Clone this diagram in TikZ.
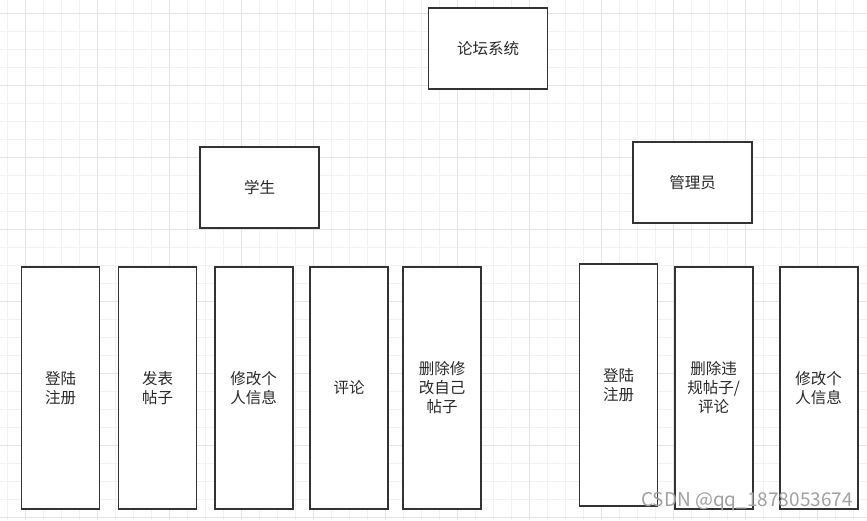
\documentclass[tikz,border=0pt]{standalone}
\usepackage{fontspec}
\newfontfamily\cjk{Noto Sans CJK SC}
\definecolor{minorgrid}{RGB}{242,242,242}
\definecolor{majorgrid}{RGB}{228,228,228}
\definecolor{linegray}{RGB}{51,51,51}
\definecolor{textgray}{RGB}{40,40,40}
\definecolor{wmgray}{RGB}{160,160,160}
\tikzset{
  box/.style={draw=linegray,line width=1.8pt,fill=white,inner sep=0pt,align=center,
    text=textgray,font=\cjk\fontsize{15.5}{19}\selectfont},
  headbox/.style={box,minimum width=119pt,minimum height=81pt},
  itembox/.style={box,minimum width=78pt,minimum height=242pt},
}
\begin{document}
\begin{tikzpicture}[x=1pt,y=-1pt]
\useasboundingbox (0,0) rectangle (867,520);
\fill[white] (0,0) rectangle (867,520);
% background grid
\foreach \x in {7,25,...,867} \draw[minorgrid,line width=1pt] (\x,0) -- (\x,520);
\foreach \y in {-4.5,13.5,...,520} \draw[minorgrid,line width=1pt] (0,\y) -- (867,\y);
\foreach \x in {25,97,...,867} \draw[majorgrid,line width=1pt] (\x,0) -- (\x,520);
\foreach \y in {13.5,85.5,...,520} \draw[majorgrid,line width=1pt] (0,\y) -- (867,\y);
% top levels
\node[headbox] (sys) at (488,48.5) {论坛系统};
\node[headbox] (stu) at (259.5,187.5) {学生};
\node[headbox] (adm) at (692.5,182.5) {管理员};
% student functions
\node[itembox] (s1) at (60.5,388) {登陆\\注册};
\node[itembox] (s2) at (157.5,388) {发表\\帖子};
\node[itembox] (s3) at (253.7,388) {修改个\\人信息};
\node[itembox] (s4) at (349,388) {评论};
\node[itembox] (s5) at (442,388) {删除修\\改自己\\帖子};
% admin functions
\node[itembox] (a1) at (618.5,384.7) {登陆\\注册};
\node[itembox] (a2) at (713.7,388) {删除违\\规帖子/\\评论};
\node[itembox] (a3) at (818.7,388) {修改个\\人信息};
\node[anchor=base east,inner sep=0pt,text=wmgray,font=\cjk\fontsize{19}{22}\selectfont] (wm) at (853,506) {CSDN @qq\_1878053674};
\end{tikzpicture}
\end{document}
